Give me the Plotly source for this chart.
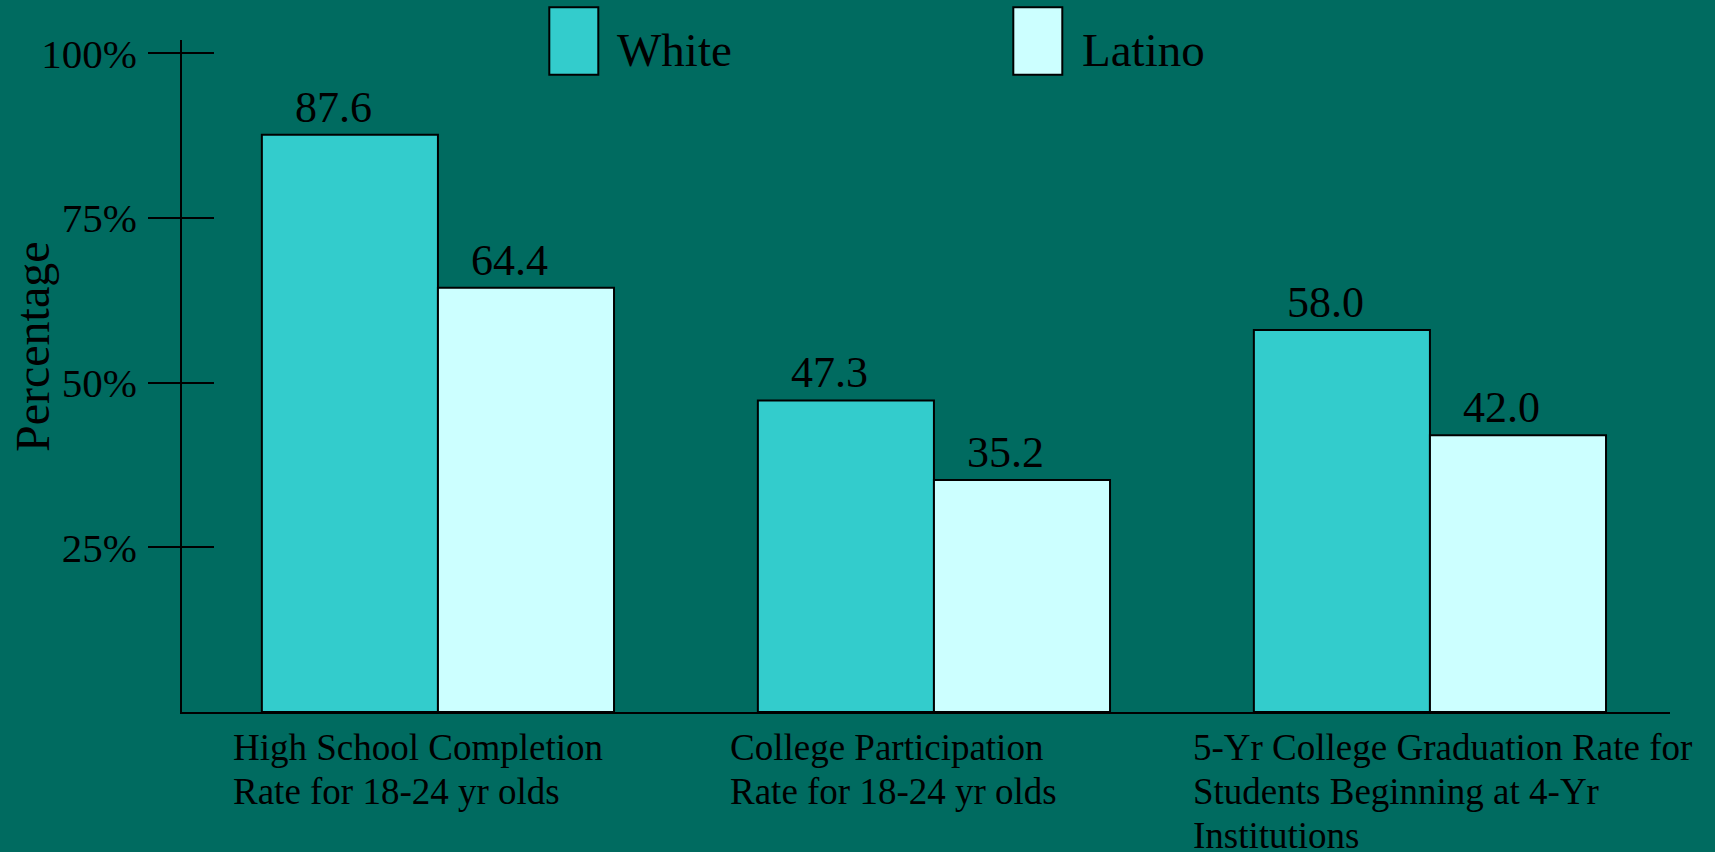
import plotly.graph_objects as go

# ---- data ----
categories = ["hs", "cp", "grad"]
category_labels = [
    ["High School Completion", "Rate for 18-24 yr olds"],
    ["College Participation", "Rate for 18-24 yr olds"],
    ["5-Yr College Graduation Rate for", "Students Beginning at 4-Yr", "Institutions"],
]
white = [87.6, 47.3, 58.0]
latino = [64.4, 35.2, 42.0]
series_names = ["White", "Latino"]
tick_values = [25, 50, 75, 100]
tick_labels = ["25%", "50%", "75%", "100%"]

# ---- style ----
BG = "#006B60"
C_WHITE = "#33CCCC"
C_LATINO = "#CCFFFF"
FONT = "Liberation Serif, Times New Roman, serif"
W, H = 1715, 852
ML, MR, MT, MB = 182, 45, 40, 140
PW = W - ML - MR
PH = H - MT - MB
NB = "\u00a0"


def px_x(p):
    return (p - ML) / PW


def px_y(p):
    return (H - MB - p) / PH


fig = go.Figure()
for name, vals, col in [(series_names[0], white, C_WHITE), (series_names[1], latino, C_LATINO)]:
    fig.add_trace(go.Bar(
        x=categories, y=vals, name=name,
        marker=dict(color=col, line=dict(color="black", width=2)),
        text=[f"{v:.1f}" + NB * 3 for v in vals], textposition="outside",
        textfont=dict(family=FONT, size=44, color="black"),
        cliponaxis=False, showlegend=False, hoverinfo="skip",
    ))

# invisible trace to carry the second y axis (inner half of the crossing ticks)
fig.add_trace(go.Scatter(x=categories, y=white, yaxis="y2", mode="none",
                         showlegend=False, hoverinfo="skip"))

yrange = [0, 102]
fig.update_layout(
    width=W, height=H,
    paper_bgcolor=BG, plot_bgcolor=BG,
    margin=dict(l=ML, r=MR, t=MT, b=MB),
    barmode="group", bargap=0.29, bargroupgap=0,
    font=dict(family=FONT, color="black"),
    xaxis=dict(type="category", range=[-0.516, 2.484], showline=True,
               linecolor="black", linewidth=2, showticklabels=False,
               ticks="", showgrid=False, zeroline=False, fixedrange=True),
    yaxis=dict(range=yrange, tickvals=tick_values, ticktext=tick_labels,
               ticks="outside", ticklen=32, tickwidth=2, tickcolor="black",
               showline=True, linecolor="black", linewidth=2,
               showgrid=False, zeroline=False,
               tickfont=dict(family=FONT, size=41, color="black"),
               ticklabelstandoff=3),
    yaxis2=dict(range=yrange, overlaying="y", side="left", tickvals=tick_values,
                ticks="inside", ticklen=32, tickwidth=2, tickcolor="black",
                showticklabels=False, showline=False, showgrid=False,
                zeroline=False),
    showlegend=False,
)

# category labels (left-aligned blocks under each group), one annotation per line
label_shift = [-207, -206, -239]
for cat, lines, sh in zip(categories, category_labels, label_shift):
    for i, line in enumerate(lines):
        fig.add_annotation(x=cat, xref="x", y=0, yref="paper", text=line,
                           xanchor="left", yanchor="top", align="left",
                           xshift=sh, yshift=-13 - 44 * i, showarrow=False,
                           font=dict(family=FONT, size=37, color="black"))

# y title
fig.add_annotation(x=px_x(32), xref="paper", y=px_y(347), yref="paper",
                   text="Percentage", textangle=-90, showarrow=False,
                   xanchor="center", yanchor="middle",
                   font=dict(family=FONT, size=48, color="black"))

# legend
legend_items = [(series_names[0], C_WHITE, 549.3, 617.3), (series_names[1], C_LATINO, 1013.3, 1081.6)]
for name, col, bx, tx in legend_items:
    fig.add_shape(type="rect", xref="paper", yref="paper",
                  x0=px_x(bx), x1=px_x(bx + 49), y0=px_y(74.7), y1=px_y(7.3),
                  fillcolor=col, line=dict(color="black", width=2))
    fig.add_annotation(x=px_x(tx - 2), xref="paper", y=px_y(50), yref="paper",
                       text=name, showarrow=False, xanchor="left", yanchor="middle",
                       font=dict(family=FONT, size=47, color="black"))

fig.write_html("out.html", config={"displayModeBar": False})
